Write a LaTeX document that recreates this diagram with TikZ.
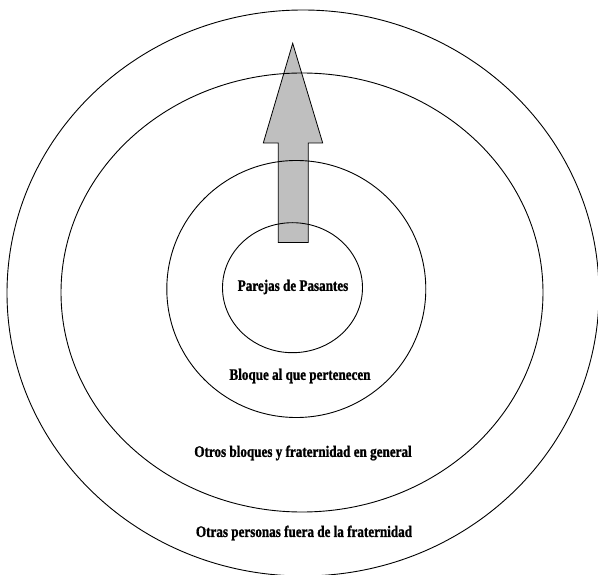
\documentclass[tikz,border=0pt]{standalone}
\usepackage{fontspec}
\usetikzlibrary{shapes.geometric}
\newfontfamily\anillofont{Liberation Serif}[FakeStretch=0.82, FakeBold=1.2]

\begin{document}
\begin{tikzpicture}[x=1pt, y=-1pt,
    anillo/.style={draw, ellipse, inner sep=0pt, line width=0.9pt},
    etiqueta/.style={font=\anillofont\bfseries\fontsize{16}{18}\selectfont, inner sep=0pt}]
        \useasboundingbox (0,0) rectangle (598,575);
        % Flecha hacia afuera
        \draw[fill=black!25, line width=0.8pt, line join=miter]
            (278.3,242.5) -- (278.3,143) -- (263.3,143) -- (292.7,43.3)
            -- (322.7,143) -- (308.3,143) -- (308.3,242.5) -- cycle;
        % Anillos
        \node[anillo, minimum width=592pt, minimum height=566pt] (a4) at (303,293) {};
        \node[anillo, minimum width=482pt, minimum height=439pt] (a3) at (302,292.5) {};
        \node[anillo, minimum width=259pt, minimum height=257pt] (a2) at (296.3,289) {};
        \node[anillo, minimum width=140pt, minimum height=130pt] (a1) at (292.5,287.7) {};
        % Textos
        \node[etiqueta] (parejas) at (293,287) {Parejas de Pasantes};
        \node[etiqueta] (bloque) at (300,376) {Bloque al que pertenecen};
        \node[etiqueta] (otros) at (303,453) {Otros bloques y fraternidad en general};
        \node[etiqueta] (fuera) at (304,533) {Otras personas fuera de la fraternidad};
    \end{tikzpicture}
\end{document}
